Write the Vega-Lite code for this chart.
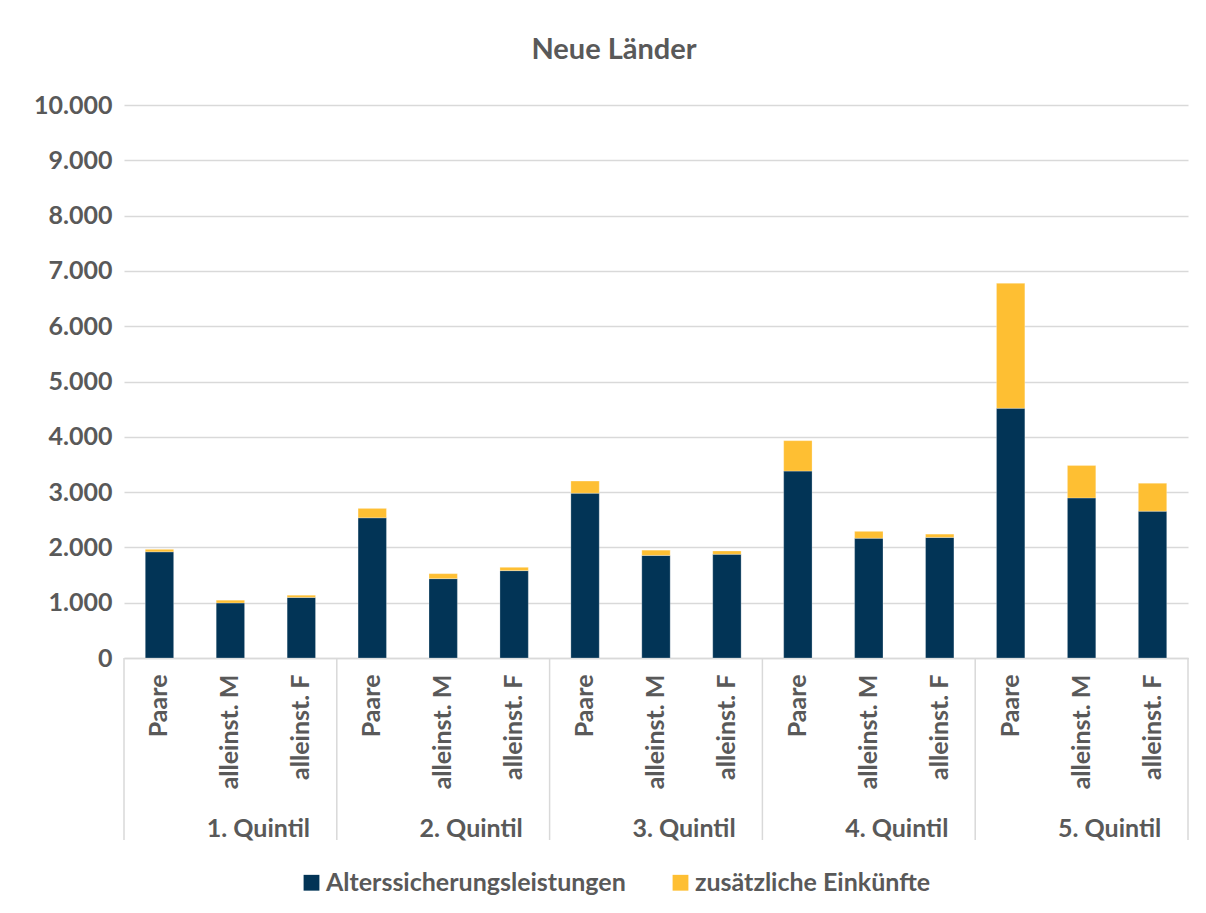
{
  "$schema": "https://vega.github.io/schema/vega-lite/v6.json",
  "autosize": {"type": "none"},
  "padding": {"left": 124, "top": 105, "right": 18, "bottom": 255},
  "width": 1064,
  "height": 553,
  "background": "white",
  "title": {
    "text": "Neue Länder",
    "font": "Lato",
    "fontSize": 29,
    "fontWeight": "bold",
    "color": "#595959",
    "anchor": "middle",
    "frame": "group",
    "dx": -42,
    "offset": 28
  },
  "data": {
    "values": [
      {"quintil": "1. Quintil", "gruppe": "Paare", "balken": "1. Quintil|Paare", "komponente": "Alterssicherungsleistungen", "reihenfolge": 1, "wert": 1920},
      {"quintil": "1. Quintil", "gruppe": "Paare", "balken": "1. Quintil|Paare", "komponente": "zusätzliche Einkünfte", "reihenfolge": 2, "wert": 45},
      {"quintil": "1. Quintil", "gruppe": "alleinst. M", "balken": "1. Quintil|alleinst. M", "komponente": "Alterssicherungsleistungen", "reihenfolge": 1, "wert": 995},
      {"quintil": "1. Quintil", "gruppe": "alleinst. M", "balken": "1. Quintil|alleinst. M", "komponente": "zusätzliche Einkünfte", "reihenfolge": 2, "wert": 50},
      {"quintil": "1. Quintil", "gruppe": "alleinst. F", "balken": "1. Quintil|alleinst. F", "komponente": "Alterssicherungsleistungen", "reihenfolge": 1, "wert": 1095},
      {"quintil": "1. Quintil", "gruppe": "alleinst. F", "balken": "1. Quintil|alleinst. F", "komponente": "zusätzliche Einkünfte", "reihenfolge": 2, "wert": 40},
      {"quintil": "2. Quintil", "gruppe": "Paare", "balken": "2. Quintil|Paare", "komponente": "Alterssicherungsleistungen", "reihenfolge": 1, "wert": 2535},
      {"quintil": "2. Quintil", "gruppe": "Paare", "balken": "2. Quintil|Paare", "komponente": "zusätzliche Einkünfte", "reihenfolge": 2, "wert": 170},
      {"quintil": "2. Quintil", "gruppe": "alleinst. M", "balken": "2. Quintil|alleinst. M", "komponente": "Alterssicherungsleistungen", "reihenfolge": 1, "wert": 1435},
      {"quintil": "2. Quintil", "gruppe": "alleinst. M", "balken": "2. Quintil|alleinst. M", "komponente": "zusätzliche Einkünfte", "reihenfolge": 2, "wert": 90},
      {"quintil": "2. Quintil", "gruppe": "alleinst. F", "balken": "2. Quintil|alleinst. F", "komponente": "Alterssicherungsleistungen", "reihenfolge": 1, "wert": 1580},
      {"quintil": "2. Quintil", "gruppe": "alleinst. F", "balken": "2. Quintil|alleinst. F", "komponente": "zusätzliche Einkünfte", "reihenfolge": 2, "wert": 60},
      {"quintil": "3. Quintil", "gruppe": "Paare", "balken": "3. Quintil|Paare", "komponente": "Alterssicherungsleistungen", "reihenfolge": 1, "wert": 2980},
      {"quintil": "3. Quintil", "gruppe": "Paare", "balken": "3. Quintil|Paare", "komponente": "zusätzliche Einkünfte", "reihenfolge": 2, "wert": 220},
      {"quintil": "3. Quintil", "gruppe": "alleinst. M", "balken": "3. Quintil|alleinst. M", "komponente": "Alterssicherungsleistungen", "reihenfolge": 1, "wert": 1855},
      {"quintil": "3. Quintil", "gruppe": "alleinst. M", "balken": "3. Quintil|alleinst. M", "komponente": "zusätzliche Einkünfte", "reihenfolge": 2, "wert": 95},
      {"quintil": "3. Quintil", "gruppe": "alleinst. F", "balken": "3. Quintil|alleinst. F", "komponente": "Alterssicherungsleistungen", "reihenfolge": 1, "wert": 1875},
      {"quintil": "3. Quintil", "gruppe": "alleinst. F", "balken": "3. Quintil|alleinst. F", "komponente": "zusätzliche Einkünfte", "reihenfolge": 2, "wert": 60},
      {"quintil": "4. Quintil", "gruppe": "Paare", "balken": "4. Quintil|Paare", "komponente": "Alterssicherungsleistungen", "reihenfolge": 1, "wert": 3380},
      {"quintil": "4. Quintil", "gruppe": "Paare", "balken": "4. Quintil|Paare", "komponente": "zusätzliche Einkünfte", "reihenfolge": 2, "wert": 550},
      {"quintil": "4. Quintil", "gruppe": "alleinst. M", "balken": "4. Quintil|alleinst. M", "komponente": "Alterssicherungsleistungen", "reihenfolge": 1, "wert": 2165},
      {"quintil": "4. Quintil", "gruppe": "alleinst. M", "balken": "4. Quintil|alleinst. M", "komponente": "zusätzliche Einkünfte", "reihenfolge": 2, "wert": 125},
      {"quintil": "4. Quintil", "gruppe": "alleinst. F", "balken": "4. Quintil|alleinst. F", "komponente": "Alterssicherungsleistungen", "reihenfolge": 1, "wert": 2180},
      {"quintil": "4. Quintil", "gruppe": "alleinst. F", "balken": "4. Quintil|alleinst. F", "komponente": "zusätzliche Einkünfte", "reihenfolge": 2, "wert": 60},
      {"quintil": "5. Quintil", "gruppe": "Paare", "balken": "5. Quintil|Paare", "komponente": "Alterssicherungsleistungen", "reihenfolge": 1, "wert": 4515},
      {"quintil": "5. Quintil", "gruppe": "Paare", "balken": "5. Quintil|Paare", "komponente": "zusätzliche Einkünfte", "reihenfolge": 2, "wert": 2260},
      {"quintil": "5. Quintil", "gruppe": "alleinst. M", "balken": "5. Quintil|alleinst. M", "komponente": "Alterssicherungsleistungen", "reihenfolge": 1, "wert": 2895},
      {"quintil": "5. Quintil", "gruppe": "alleinst. M", "balken": "5. Quintil|alleinst. M", "komponente": "zusätzliche Einkünfte", "reihenfolge": 2, "wert": 585},
      {"quintil": "5. Quintil", "gruppe": "alleinst. F", "balken": "5. Quintil|alleinst. F", "komponente": "Alterssicherungsleistungen", "reihenfolge": 1, "wert": 2655},
      {"quintil": "5. Quintil", "gruppe": "alleinst. F", "balken": "5. Quintil|alleinst. F", "komponente": "zusätzliche Einkünfte", "reihenfolge": 2, "wert": 505}
    ]
  },
  "layer": [
    {
      "mark": {"type": "bar", "stroke": "#ffffff", "strokeOpacity": 0.5, "strokeWidth": 0.5},
      "encoding": {
        "x": {
          "field": "balken",
          "type": "nominal",
          "sort": null,
          "scale": {"paddingInner": 0.6, "paddingOuter": 0.3},
          "axis": {
            "title": null,
            "labelAngle": -90,
            "labelExpr": "split(datum.label, '|')[1]",
            "labelFont": "Lato",
            "labelFontSize": 25,
            "labelFontWeight": "bold",
            "labelColor": "#595959",
            "labelPadding": 16,
            "labelLimit": 0,
            "ticks": false,
            "domain": true,
            "domainColor": "#d9d9d9",
            "domainWidth": 1.5,
            "grid": false
          }
        },
        "y": {
          "field": "wert",
          "type": "quantitative",
          "aggregate": "sum",
          "stack": "zero",
          "scale": {"domain": [0, 10000], "nice": false},
          "axis": {
            "title": null,
            "values": [0, 1000, 2000, 3000, 4000, 5000, 6000, 7000, 8000, 9000, 10000],
            "labelExpr": "replace(format(datum.value, ','), ',', '.')",
            "labelFont": "Lato",
            "labelFontSize": 25,
            "labelFontWeight": "bold",
            "labelColor": "#595959",
            "labelPadding": 12,
            "ticks": false,
            "domain": false,
            "grid": true,
            "gridColor": "#d9d9d9",
            "gridWidth": 1.5
          }
        },
        "color": {
          "field": "komponente",
          "type": "nominal",
          "scale": {
            "domain": ["Alterssicherungsleistungen", "zusätzliche Einkünfte"],
            "range": ["#023456", "#FEBF33"]
          },
          "legend": {
            "title": null,
            "orient": "none",
            "direction": "horizontal",
            "legendX": 175,
            "legendY": 765,
            "symbolType": "square",
            "symbolSize": 250,
            "symbolStrokeWidth": 0,
            "labelFont": "Lato",
            "labelFontSize": 25,
            "labelFontWeight": "bold",
            "labelColor": "#595959",
            "labelOffset": 2,
            "labelLimit": 0,
            "columnPadding": 42
          }
        },
        "order": {"field": "reihenfolge", "type": "quantitative"}
      }
    },
    {
      "transform": [
        {"filter": "datum.gruppe == 'alleinst. M' && datum.komponente == 'Alterssicherungsleistungen'"}
      ],
      "mark": {
        "type": "text",
        "font": "Lato",
        "fontSize": 25,
        "fontWeight": "bold",
        "color": "#595959",
        "baseline": "middle",
        "align": "center",
        "dx": 28,
        "dy": 171
      },
      "encoding": {
        "x": {"field": "balken", "type": "nominal", "sort": null},
        "y": {"datum": 0},
        "text": {"field": "quintil", "type": "nominal"}
      }
    },
    {
      "transform": [
        {"filter": "datum.gruppe == 'Paare' && datum.komponente == 'Alterssicherungsleistungen'"}
      ],
      "mark": {"type": "rule", "color": "#d9d9d9", "strokeWidth": 1.5, "y2Offset": 182},
      "encoding": {
        "x": {"field": "balken", "type": "nominal", "sort": null, "bandPosition": -0.75},
        "y": {"datum": 0},
        "y2": {"datum": 0}
      }
    },
    {
      "transform": [
        {"filter": "datum.quintil == '5. Quintil' && datum.gruppe == 'alleinst. F' && datum.komponente == 'Alterssicherungsleistungen'"}
      ],
      "mark": {"type": "rule", "color": "#d9d9d9", "strokeWidth": 1.5, "y2Offset": 182},
      "encoding": {
        "x": {"field": "balken", "type": "nominal", "sort": null, "bandPosition": 1.75},
        "y": {"datum": 0},
        "y2": {"datum": 0}
      }
    }
  ],
  "config": {
    "view": {"stroke": null}
  }
}
